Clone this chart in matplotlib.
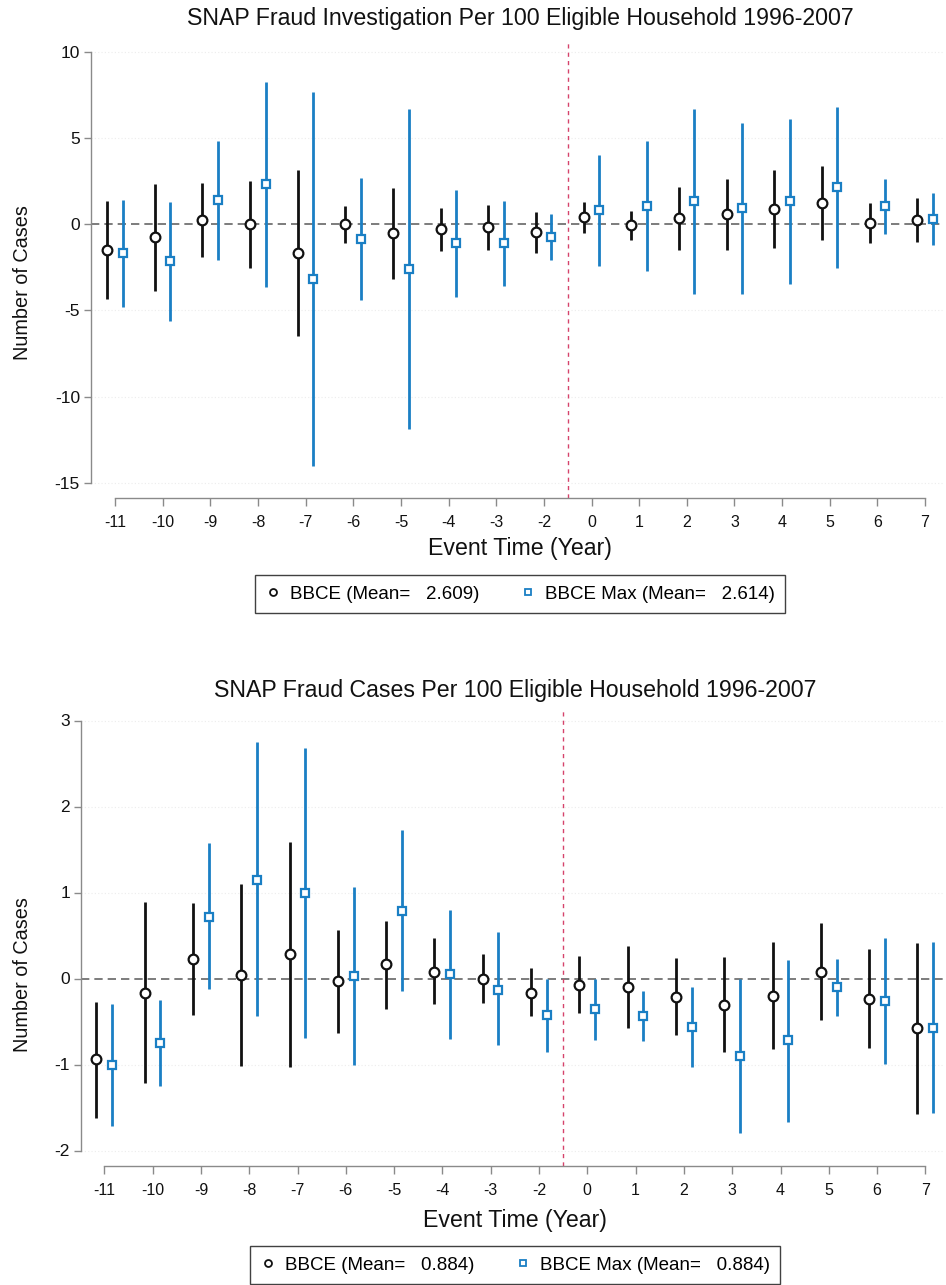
import matplotlib
matplotlib.use("Agg")
import matplotlib.pyplot as plt
from matplotlib.lines import Line2D
import numpy as np

# Event-time axis (year -1 is the omitted reference period)
event_labels = ["-11", "-10", "-9", "-8", "-7", "-6", "-5", "-4", "-3", "-2",
                "0", "1", "2", "3", "4", "5", "6", "7"]

# Fraud investigations per 100 eligible households
inv_bbce = [-1.47, -0.75, 0.27, 0.00, -1.65, 0.00, -0.50, -0.27, -0.18, -0.47,
            0.42, -0.06, 0.35, 0.58, 0.89, 1.24, 0.08, 0.25]
inv_bbce_lo = [-4.31, -3.85, -1.88, -2.55, -6.48, -1.10, -3.17, -1.53, -1.51, -1.65,
               -0.52, -0.91, -1.49, -1.51, -1.39, -0.93, -1.08, -1.03]
inv_bbce_hi = [1.35, 2.32, 2.41, 2.53, 3.15, 1.06, 2.12, 0.93, 1.14, 0.71,
               1.31, 0.79, 2.15, 2.65, 3.13, 3.38, 1.24, 1.53]
inv_max = [-1.68, -2.15, 1.43, 2.32, -3.19, -0.85, -2.57, -1.10, -1.08, -0.72,
           0.81, 1.08, 1.33, 0.93, 1.35, 2.16, 1.04, 0.31]
inv_max_lo = [-4.78, -5.61, -2.07, -3.62, -14.02, -4.41, -11.86, -4.22, -3.58, -2.09,
              -2.42, -2.71, -4.02, -4.06, -3.48, -2.52, -0.58, -1.22]
inv_max_hi = [1.39, 1.28, 4.83, 8.25, 7.66, 2.70, 6.69, 1.97, 1.35, 0.62,
              4.02, 4.83, 6.67, 5.90, 6.13, 6.79, 2.65, 1.80]

# Fraud cases per 100 eligible households
cas_bbce = [-0.94, -0.17, 0.23, 0.04, 0.28, -0.03, 0.17, 0.08, 0.00, -0.17,
            -0.07, -0.10, -0.21, -0.31, -0.20, 0.08, -0.24, -0.58]
cas_bbce_lo = [-1.62, -1.22, -0.42, -1.02, -1.03, -0.63, -0.35, -0.30, -0.29, -0.44,
               -0.40, -0.58, -0.66, -0.86, -0.82, -0.48, -0.81, -1.58]
cas_bbce_hi = [-0.27, 0.89, 0.88, 1.10, 1.59, 0.56, 0.67, 0.47, 0.28, 0.12,
               0.26, 0.38, 0.24, 0.25, 0.42, 0.65, 0.34, 0.41]
cas_max = [-1.01, -0.75, 0.72, 1.15, 0.99, 0.03, 0.79, 0.05, -0.13, -0.42,
           -0.36, -0.44, -0.56, -0.90, -0.72, -0.10, -0.26, -0.57]
cas_max_lo = [-1.71, -1.25, -0.12, -0.44, -0.69, -1.01, -0.15, -0.70, -0.77, -0.85,
              -0.72, -0.73, -1.03, -1.80, -1.67, -0.44, -0.99, -1.56]
cas_max_hi = [-0.30, -0.25, 1.57, 2.75, 2.68, 1.06, 1.73, 0.80, 0.54, 0.00,
              -0.01, -0.14, -0.10, 0.00, 0.22, 0.23, 0.47, 0.43]

inv_means = (2.609, 2.614)
cas_means = (0.884, 0.884)

inv_yticks = [-15, -10, -5, 0, 5, 10]
cas_yticks = [-2, -1, 0, 1, 2, 3]

BLACK = "#111111"
BLUE = "#1a7fc4"
AXIS = "#8a8a8a"
SANS = ["Liberation Sans", "DejaVu Sans"]
NARROW = ["Liberation Sans Narrow", "Liberation Sans", "DejaVu Sans"]

plt.rcParams["font.family"] = NARROW

W, H = 946, 1285
fig = plt.figure(figsize=(W / 100, H / 100), dpi=100)


def rect(l, t, r, b):
    return [l / W, 1 - b / H, (r - l) / W, (b - t) / H]


def panel(box, x0px, dxpx, y0px, dypx, yticks, series, means, title, title_xy,
          xlabel_xy, ylabel_xy, legend_xy):
    l, t, r, b = box
    ax = fig.add_axes(rect(l, t, r, b))
    ax.set_xlim((l - x0px) / dxpx, (r - x0px) / dxpx)
    ax.set_ylim((y0px - b) / dypx, (y0px - t) / dypx)

    idx = np.arange(len(event_labels))
    (m1, lo1, hi1), (m2, lo2, hi2) = series

    # faint grid at the y ticks, reference line at zero, treatment line
    for yv in yticks:
        if yv != 0:
            ax.axhline(yv, color="#ececec", lw=0.8, ls=(0, (1, 2)), zorder=0)
    ax.axhline(0, color="#666666", lw=1.2, ls=(0, (5, 3)), zorder=1)
    ax.axvline(9.5, color="#d6436b", lw=1.0, ls=(0, (3, 3)), zorder=1)

    xb = idx - 0.165
    xm = idx + 0.16
    ax.vlines(xb, lo1, hi1, color=BLACK, lw=2.0, zorder=2)
    ax.plot(xb, m1, ls="none", marker="o", ms=7.0, mfc="white", mec=BLACK,
            mew=1.6, zorder=3)
    ax.vlines(xm, lo2, hi2, color=BLUE, lw=2.0, zorder=2)
    ax.plot(xm, m2, ls="none", marker="s", ms=6.3, mfc="white", mec=BLUE,
            mew=1.6, zorder=3)

    for side in ("top", "right"):
        ax.spines[side].set_visible(False)
    ax.spines["left"].set_bounds(yticks[0], yticks[-1])
    ax.spines["bottom"].set_bounds(0, len(event_labels) - 1)
    for side in ("left", "bottom"):
        ax.spines[side].set_color(AXIS)
        ax.spines[side].set_linewidth(1.0)

    ax.set_yticks(yticks)
    ax.set_yticklabels([str(v) for v in yticks])
    ax.set_xticks(idx)
    ax.set_xticklabels(event_labels)
    ax.tick_params(axis="y", direction="out", length=5, width=1, color=AXIS,
                   pad=3, labelsize=12.5, labelcolor="#111111")
    ax.tick_params(axis="x", direction="out", length=6, width=1, color=AXIS,
                   pad=6, labelsize=11.5, labelcolor="#111111")
    for lab in ax.get_yticklabels():
        lab.set_family(SANS)

    fig.text(title_xy[0] / W, 1 - title_xy[1] / H, title, ha="center",
             va="center", fontsize=16.7, color="#111111", family=SANS)
    fig.text(xlabel_xy[0] / W, 1 - xlabel_xy[1] / H, "Event Time (Year)",
             ha="center", va="center", fontsize=16.7, color="#111111")
    fig.text(ylabel_xy[0] / W, 1 - ylabel_xy[1] / H, "Number of Cases",
             ha="center", va="center", rotation=90, fontsize=14.3,
             color="#111111", family=SANS)

    handles = [
        Line2D([], [], ls="none", marker="o", ms=5, mfc="white", mec=BLACK, mew=1.3),
        Line2D([], [], ls="none", marker="s", ms=5, mfc="white", mec=BLUE, mew=1.3),
    ]
    labels = [f"BBCE (Mean=   {means[0]:.3f})", f"BBCE Max (Mean=   {means[1]:.3f})"]
    leg = fig.legend(handles, labels, loc="center",
                     bbox_to_anchor=(legend_xy[0] / W, 1 - legend_xy[1] / H),
                     ncol=2, fontsize=13.5, frameon=True, fancybox=False,
                     handlelength=0.8, handletextpad=0.5, columnspacing=2.2,
                     borderpad=0.55, borderaxespad=0)
    leg.get_frame().set_edgecolor("#111111")
    leg.get_frame().set_linewidth(1.0)
    return ax


panel((91, 42, 944, 498), 115, 47.65, 224.3, 17.24, inv_yticks,
      ((inv_bbce, inv_bbce_lo, inv_bbce_hi), (inv_max, inv_max_lo, inv_max_hi)),
      inv_means, "SNAP Fraud Investigation Per 100 Eligible Household 1996-2007",
      (520, 18), (520, 548), (22, 283), (520, 594))

panel((81, 710, 944, 1166), 104.3, 48.3, 978.5, 86.0, cas_yticks,
      ((cas_bbce, cas_bbce_lo, cas_bbce_hi), (cas_max, cas_max_lo, cas_max_hi)),
      cas_means, "SNAP Fraud Cases Per 100 Eligible Household 1996-2007",
      (515, 690), (515, 1220), (22, 975), (515, 1265))

fig.savefig("out.png", dpi=100, facecolor="white")
